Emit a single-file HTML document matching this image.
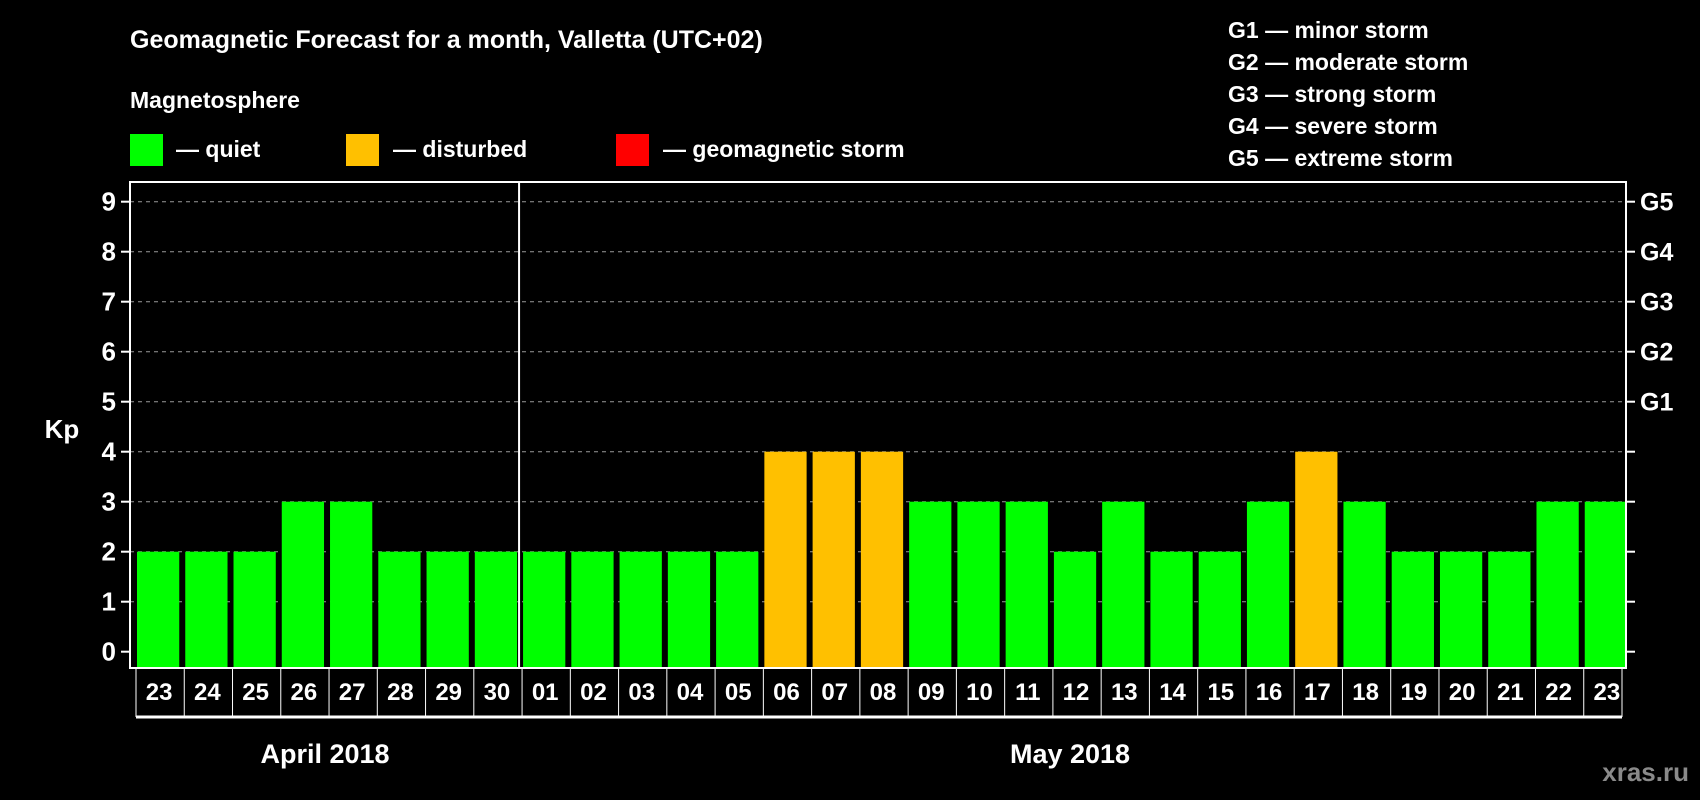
<!DOCTYPE html>
<html><head><meta charset="utf-8">
<style>
html,body{margin:0;padding:0;background:#000;}
svg{display:block;font-family:"Liberation Sans",sans-serif;font-weight:bold;}
</style></head>
<body>
<svg id="chart" width="1700" height="800" viewBox="0 0 1700 800">
  <rect width="1700" height="800" fill="#000"/>
  <text x="130" y="48" fill="#fff" font-size="25">Geomagnetic Forecast for a month, Valletta (UTC+02)</text>
  <text x="130" y="108" fill="#fff" font-size="23">Magnetosphere</text>
  <g>
    <rect x="130" y="134" width="33" height="32" fill="#00ff00"/>
    <text x="176" y="157" fill="#fff" font-size="23">— quiet</text>
  </g>
  <g>
    <rect x="346" y="134" width="33" height="32" fill="#ffc000"/>
    <text x="393" y="157" fill="#fff" font-size="23">— disturbed</text>
  </g>
  <g>
    <rect x="616" y="134" width="33" height="32" fill="#ff0000"/>
    <text x="663" y="157" fill="#fff" font-size="23">— geomagnetic storm</text>
  </g>
  <g font-size="23" fill="#fff">
    <text x="1228" y="38">G1 — minor storm</text>
    <text x="1228" y="70">G2 — moderate storm</text>
    <text x="1228" y="102">G3 — strong storm</text>
    <text x="1228" y="134">G4 — severe storm</text>
    <text x="1228" y="166">G5 — extreme storm</text>
  </g>
  <text x="62" y="438" fill="#fff" font-size="26" text-anchor="middle">Kp</text>
  <g id="grid"></g>
  <g id="bars"></g>
  <g id="xlabels"></g>
  <rect x="130" y="182" width="1496" height="486" fill="none" stroke="#fff" stroke-width="2"/>
  <text x="325" y="763" fill="#fff" font-size="27" text-anchor="middle">April 2018</text>
  <text x="1070" y="763" fill="#fff" font-size="27" text-anchor="middle">May 2018</text>
  <text x="1689" y="781" fill="#8a8a8a" font-size="26" text-anchor="end">xras.ru</text>
</svg>
<script>
const days = ["23","24","25","26","27","28","29","30","01","02","03","04","05","06","07","08","09","10","11","12","13","14","15","16","17","18","19","20","21","22","23"];
const kpValues = [2,2,2,3,3,2,2,2,2,2,2,2,2,4,4,4,3,3,3,2,3,2,2,3,4,3,2,2,2,3,3];
const yTicks = [0,1,2,3,4,5,6,7,8,9];
const gLabels = ["","","","","","G1","G2","G3","G4","G5"];
const monthSplitIndex = 8;

const NS = "http://www.w3.org/2000/svg";
const L = 130, R = 1626, T = 182, B = 668;
const y0 = 651.7, unit = 50.0;
const slot = (R - L) / days.length;
const yScale = v => y0 - v * unit;
const xScale = i => L + i * slot;
function mk(tag, attrs, parent) {
  const e = document.createElementNS(NS, tag);
  for (const k in attrs) e.setAttribute(k, attrs[k]);
  parent.appendChild(e);
  return e;
}
const grid = document.getElementById("grid");
yTicks.forEach((t, i) => {
  const y = yScale(t);
  if (t >= 1) {
    const gl = mk("line", {x1: L, x2: R, y1: y, y2: y, stroke: "#999", "stroke-width": 1, "stroke-dasharray": "4,4"}, grid);
    
    
  }
  const tl = mk("line", {x1: L - 9, x2: L, y1: y, y2: y, stroke: "#fff", "stroke-width": 2}, grid);
  
  
  const tr = mk("line", {x1: R, x2: R + 9, y1: y, y2: y, stroke: "#fff", "stroke-width": 2}, grid);
  
  
  const lb = mk("text", {x: L - 14, y: y + 9, fill: "#fff", "font-size": 26, "text-anchor": "end"}, grid);
  lb.textContent = t;
  
  
  if (gLabels[i]) {
    const g = mk("text", {x: R + 14, y: y + 9, fill: "#fff", "font-size": 25}, grid);
    g.textContent = gLabels[i];
    
    
  }
});
const divX = xScale(monthSplitIndex) + 3;
const dv = mk("line", {x1: divX, x2: divX, y1: T, y2: B, stroke: "#fff", "stroke-width": 2}, grid);



const bars = document.getElementById("bars");
kpValues.forEach((v, i) => {
  const color = v >= 5 ? "#ff0000" : (v >= 4 ? "#ffc000" : "#00ff00");
  const r = mk("rect", {x: xScale(i) + 7, y: yScale(v), width: slot - 6, height: B - yScale(v), fill: color}, bars);
  
  
});

const xl = document.getElementById("xlabels");
const bl = mk("line", {x1: L + 6, x2: R - 4, y1: 717, y2: 717, stroke: "#fff", "stroke-width": 3}, xl);


days.forEach((d, i) => {
  const x = xScale(i) + 6;
  const sep = mk("line", {x1: x, x2: x, y1: B, y2: 717, stroke: "#fff", "stroke-width": 1}, xl);
  
  
  const t = mk("text", {x: x + slot / 2 - 1, y: 700, fill: "#fff", "font-size": 24, "text-anchor": "middle"}, xl);
  t.textContent = d;
  
  
});
const last = mk("line", {x1: R - 4, x2: R - 4, y1: B, y2: 717, stroke: "#fff", "stroke-width": 1}, xl);


</script>
</body></html>
